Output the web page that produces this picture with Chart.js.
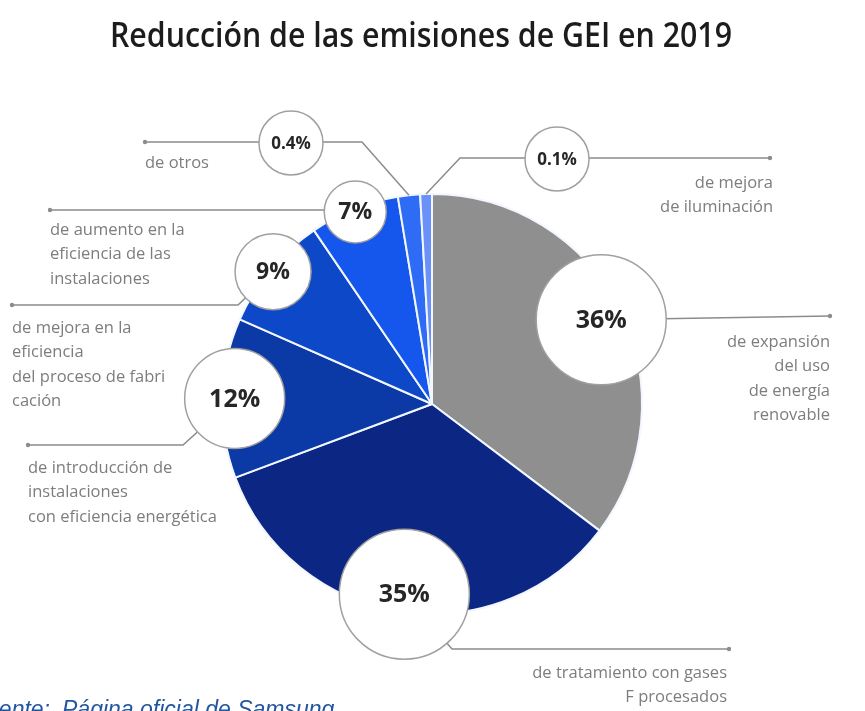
<!DOCTYPE html>
<html lang="es">
<head>
  <meta charset="UTF-8">
  <title>Reducción de las emisiones de GEI en 2019</title>
  <script src="https://cdn.jsdelivr.net/npm/chart.js@4.4.0/dist/chart.umd.min.js"></script>
  <style>
    html, body { margin: 0; padding: 0; background: #fff; }
    #wrap { position: relative; width: 865px; height: 711px; }
  </style>
</head>
<body>
  <div id="wrap"><canvas id="chart"></canvas></div>

  <script>
    // datos
    const categories = [
      'de expansión del uso de energía renovable',
      'de tratamiento con gases F procesados',
      'de introducción de instalaciones con eficiencia energética',
      'de mejora en la eficiencia del proceso de fabricación',
      'de aumento en la eficiencia de las instalaciones',
      'de otros',
      'de mejora de iluminación'
    ];
    const pctLabels = ['36%', '35%', '12%', '9%', '7%', '0.4%', '0.1%'];
    // tamaño de cada sector tal como está dibujado (los pequeños van exagerados)
    const sliceShares = [35.3, 34.0, 12.3, 8.9, 6.9, 1.7, 0.9];
    const labelLines = [
      ['de expansión', 'del uso', 'de energía', 'renovable'],
      ['de tratamiento con gases', 'F procesados'],
      ['de introducción de', 'instalaciones', 'con eficiencia energética'],
      ['de mejora en la', 'eficiencia', 'del proceso de fabri', 'cación'],
      ['de aumento en la', 'eficiencia de las', 'instalaciones'],
      ['de otros'],
      ['de mejora', 'de iluminación']
    ];
    const sliceColors = ['#8f8f8f', '#0b2783', '#0b3aa6', '#0c48c8', '#1557ec', '#2f6cf5', '#6a91f7'];

    // posiciones de los círculos y líneas guía
    const callouts = [
      { radial: 0.9, r: 65, font: 25, path: ['circle', [830, 316]], dot: [830, 316],
        text: { x: 830, y: 342, align: 'right' } },
      { radial: 0.915, r: 65, font: 25, path: ['circle', [452, 649], [729, 649]], dot: [729, 649],
        text: { x: 727, y: 673, align: 'right' } },
      { radial: 0.94, r: 50, font: 25, path: ['circle', [183, 445], [28, 445]], dot: [28, 445],
        text: { x: 28, y: 468, align: 'left' } },
      { radial: 0.985, r: 38, font: 23, path: ['circle', [238, 305], [12, 305]], dot: [12, 305],
        text: { x: 12, y: 328, align: 'left' } },
      { radial: 0.985, r: 31, font: 23, path: ['circle', [323, 210], [50, 210]], dot: [50, 210],
        text: { x: 50, y: 230, align: 'left' } },
      { at: [291, 143], r: 32, font: 17, path: ['edge', [362, 142], [145, 142]], dot: [145, 142],
        text: { x: 145, y: 163, align: 'left' } },
      { at: [557, 159], r: 32, font: 17, path: ['edge', [460, 158], [770, 158]], dot: [770, 158],
        text: { x: 773, y: 183, align: 'right' } }
    ];

    const calloutPlugin = {
      id: 'callouts',
      afterDatasetsDraw(chart) {
        const ctx = chart.ctx;
        const arcs = chart.getDatasetMeta(0).data;
        ctx.save();

        // título
        ctx.fillStyle = '#1c1c1c';
        ctx.font = '600 34px "Open Sans"';
        ctx.textBaseline = 'alphabetic';
        ctx.textAlign = 'center';
        const title = 'Reducción de las emisiones de GEI en 2019';
        const sx = 622 / ctx.measureText(title).width;
        ctx.save();
        ctx.translate(421, 47);
        ctx.scale(sx, 1);
        ctx.fillText(title, 0, 0);
        ctx.restore();

        const spots = callouts.map((c, i) => {
          const a = arcs[i].getProps(['x', 'y', 'startAngle', 'endAngle', 'outerRadius'], true);
          const mid = (a.startAngle + a.endAngle) / 2;
          const edge = { x: a.x + Math.cos(mid) * a.outerRadius, y: a.y + Math.sin(mid) * a.outerRadius };
          const center = c.at
            ? { x: c.at[0], y: c.at[1] }
            : { x: a.x + Math.cos(mid) * a.outerRadius * c.radial, y: a.y + Math.sin(mid) * a.outerRadius * c.radial };
          return { edge, center };
        });

        // líneas guía
        ctx.strokeStyle = '#8c8c8c';
        ctx.fillStyle = '#8c8c8c';
        ctx.lineWidth = 1.5;
        callouts.forEach((c, i) => {
          const pts = c.path.map(p => p === 'circle' ? spots[i].center : p === 'edge' ? spots[i].edge : { x: p[0], y: p[1] });
          ctx.beginPath();
          pts.forEach((p, k) => k ? ctx.lineTo(p.x, p.y) : ctx.moveTo(p.x, p.y));
          ctx.stroke();
          ctx.beginPath();
          ctx.arc(c.dot[0], c.dot[1], 2.2, 0, Math.PI * 2);
          ctx.fill();
        });

        // círculos con el porcentaje
        callouts.forEach((c, i) => {
          const p = spots[i].center;
          ctx.beginPath();
          ctx.arc(p.x, p.y, c.r, 0, Math.PI * 2);
          ctx.fillStyle = '#ffffff';
          ctx.fill();
          ctx.strokeStyle = '#a0a0a0';
          ctx.lineWidth = 1.5;
          ctx.stroke();
          ctx.fillStyle = '#262626';
          ctx.font = `700 ${c.font}px "Open Sans"`;
          ctx.textAlign = 'center';
          ctx.textBaseline = 'middle';
          ctx.fillText(pctLabels[i], p.x, p.y + 1);
        });

        // textos descriptivos
        ctx.fillStyle = '#7d7d7d';
        ctx.font = '16.5px "Open Sans"';
        ctx.textBaseline = 'middle';
        callouts.forEach((c, i) => {
          ctx.textAlign = c.text.align;
          labelLines[i].forEach((line, k) => {
            ctx.fillText(line, c.text.x, c.text.y + k * 24.5);
          });
        });

        // fuente (cortada en el borde inferior)
        ctx.fillStyle = '#2355a0';
        ctx.font = 'italic 23px "Liberation Sans"';
        ctx.textBaseline = 'alphabetic';
        ctx.textAlign = 'right';
        ctx.fillText('Fuente:', 50, 717);
        ctx.textAlign = 'left';
        ctx.fillText('Página oficial de Samsung', 62, 717);

        ctx.restore();
      }
    };

    new Chart(document.getElementById('chart'), {
      type: 'pie',
      data: {
        labels: categories,
        datasets: [{
          data: sliceShares,
          backgroundColor: sliceColors,
          borderColor: '#f2f6ff',
          borderWidth: 2
        }]
      },
      options: {
        responsive: true,
        maintainAspectRatio: false,
        animation: false,
        events: [],
        layout: { padding: { left: 221, right: 222, top: 193, bottom: 96 } },
        plugins: {
          legend: { display: false },
          tooltip: { enabled: false },
          title: { display: false }
        }
      },
      plugins: [calloutPlugin]
    });
  </script>
</body>
</html>
